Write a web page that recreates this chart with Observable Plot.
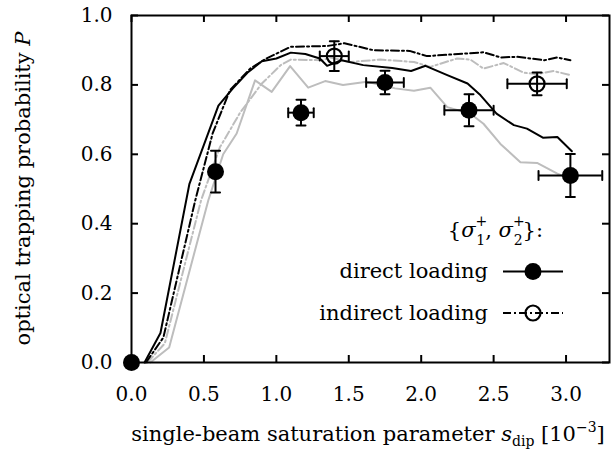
<!DOCTYPE html>
<html><head><meta charset="utf-8">
<script src="https://cdn.jsdelivr.net/npm/d3@7"></script>
<script src="https://cdn.jsdelivr.net/npm/@observablehq/plot@0.6"></script>
<style>body{margin:0;background:#fff} #chart{width:612px;height:455px}</style>
</head><body><div id="chart"></div>
<script>
// ---- data ----
const xTicks = [0, 0.5, 1.0, 1.5, 2.0, 2.5, 3.0];
const yTicks = [0, 0.2, 0.4, 0.6, 0.8, 1.0];

// simulation, direct loading (black solid)
const simDirX = [0.09, 0.2, 0.4, 0.6, 0.7, 0.8, 0.9, 1.0, 1.1, 1.2, 1.3, 1.35, 1.45, 1.6, 1.8, 1.93, 2.03, 2.18, 2.32, 2.41, 2.52, 2.64, 2.73, 2.84, 2.94, 3.04];
const simDirY = [0, 0.085, 0.515, 0.74, 0.79, 0.835, 0.868, 0.876, 0.893, 0.889, 0.876, 0.855, 0.871, 0.857, 0.849, 0.84, 0.855, 0.828, 0.804, 0.77, 0.717, 0.684, 0.674, 0.648, 0.65, 0.609];
// simulation, indirect loading (black dash-dot)
const simIndX = [0.1, 0.22, 0.44, 0.56, 0.68, 0.82, 0.93, 1.1, 1.35, 1.47, 1.67, 1.92, 2.04, 2.22, 2.43, 2.55, 2.66, 2.85, 2.94, 3.03];
const simIndY = [0, 0.072, 0.467, 0.66, 0.785, 0.847, 0.876, 0.91, 0.912, 0.92, 0.90, 0.898, 0.883, 0.888, 0.894, 0.879, 0.881, 0.871, 0.879, 0.871];
// second simulation, direct loading (gray solid)
const sim2DirX = [0.13, 0.26, 0.53, 0.633, 0.726, 0.853, 0.968, 1.095, 1.22, 1.337, 1.46, 1.625, 1.82, 1.95, 2.063, 2.18, 2.34, 2.43, 2.547, 2.685, 2.80, 2.94, 3.03];
const sim2DirY = [0, 0.043, 0.467, 0.60, 0.66, 0.813, 0.78, 0.854, 0.792, 0.811, 0.80, 0.809, 0.79, 0.783, 0.792, 0.736, 0.717, 0.688, 0.63, 0.577, 0.575, 0.544, 0.53];
// second simulation, indirect loading (gray dash-dot)
const sim2IndX = [0.11, 0.23, 0.48, 0.61, 0.75, 0.9, 1.03, 1.1, 1.32, 1.37, 1.51, 1.717, 1.95, 2.063, 2.247, 2.34, 2.43, 2.57, 2.71, 2.80, 2.915, 3.03];
const sim2IndY = [0, 0.055, 0.467, 0.62, 0.72, 0.804, 0.857, 0.873, 0.871, 0.879, 0.866, 0.873, 0.866, 0.852, 0.876, 0.873, 0.847, 0.863, 0.835, 0.831, 0.84, 0.828];

// measurements, direct loading (filled)
const dirX = [0, 0.58, 1.17, 1.75, 2.33, 3.03];
const dirY = [0, 0.55, 0.72, 0.807, 0.727, 0.539];
const dirXErr = [0, 0, 0.088, 0.13, 0.17, 0.22];
const dirYErr = [0, 0.06, 0.037, 0.034, 0.046, 0.062];
// measurements, indirect loading (open)
const indX = [1.40, 2.80];
const indY = [0.883, 0.803];
const indXErr = [0.1, 0.205];
const indYErr = [0.043, 0.033];

// ---- layout ----
const W = 612, H = 455, mL = 131, mR = 3, mT = 15, mB = 93;
const fw = W - mL - mR, fh = H - mT - mB;
const tickLen = 7, capLen = 9;
const FONT = "DejaVu Serif";
const FS = 21, TFS = 20, SFS = 14;
const GRAY = "#bdbdbd";
const DASHDOT = "8,3,2,3";

const toRows = (xs, ys) => xs.map((x, i) => ({x, y: ys[i]}));
const simDir = toRows(simDirX, simDirY);
const simInd = toRows(simIndX, simIndY);
const sim2Dir = toRows(sim2DirX, sim2DirY);
const sim2Ind = toRows(sim2IndX, sim2IndY);
const pts = (xs, ys, xe, ye) => xs.map((x, i) => ({x, y: ys[i], xe: xe[i], ye: ye[i]}));
const dir = pts(dirX, dirY, dirXErr, dirYErr);
const ind = pts(indX, indY, indXErr, indYErr);
const allPts = dir.concat(ind);
const withXE = allPts.filter(d => d.xe > 0);
const withYE = allPts.filter(d => d.ye > 0);
const xCaps = withXE.flatMap(d => [{x: d.x - d.xe, y: d.y}, {x: d.x + d.xe, y: d.y}]);
const yCaps = withYE.flatMap(d => [{x: d.x, y: d.y - d.ye}, {x: d.x, y: d.y + d.ye}]);
const capShape = {draw(ctx, l) { ctx.moveTo(0, 0); ctx.lineTo(0, -l); }};

const plot = Plot.plot({
  width: W, height: H,
  marginLeft: mL, marginRight: mR, marginTop: mT, marginBottom: mB,
  style: {fontFamily: FONT, fontSize: TFS + "px", color: "black", background: "white"},
  x: {domain: [0, 3.3]},
  y: {domain: [0, 1]},
  marks: [
    Plot.axisX({ticks: xTicks, tickFormat: d3.format(".1f"), tickSize: 0, tickPadding: 24, label: null, fontSize: TFS}),
    Plot.axisY({ticks: yTicks, tickFormat: d3.format(".1f"), tickSize: 0, tickPadding: 19, label: null, fontSize: TFS}),
    // inward ticks on all sides
    Plot.ruleX(xTicks, {x: d => d, insetTop: fh - tickLen, stroke: "black", strokeWidth: 2}),
    Plot.ruleX(xTicks, {x: d => d, insetBottom: fh - tickLen, stroke: "black", strokeWidth: 2}),
    Plot.ruleY(yTicks, {y: d => d, insetRight: fw - tickLen, stroke: "black", strokeWidth: 2}),
    Plot.ruleY(yTicks, {y: d => d, insetLeft: fw - tickLen, stroke: "black", strokeWidth: 2}),
    // simulation curves
    Plot.line(sim2Dir, {x: "x", y: "y", stroke: GRAY, strokeWidth: 2}),
    Plot.line(sim2Ind, {x: "x", y: "y", stroke: GRAY, strokeWidth: 2, strokeDasharray: DASHDOT}),
    Plot.line(simDir, {x: "x", y: "y", stroke: "black", strokeWidth: 2}),
    Plot.line(simInd, {x: "x", y: "y", stroke: "black", strokeWidth: 2, strokeDasharray: DASHDOT}),
    // error bars
    Plot.ruleY(withXE, {y: "y", x1: d => d.x - d.xe, x2: d => d.x + d.xe, stroke: "black", strokeWidth: 2}),
    Plot.ruleX(withYE, {x: "x", y1: d => d.y - d.ye, y2: d => d.y + d.ye, stroke: "black", strokeWidth: 2}),
    Plot.vector(xCaps, {x: "x", y: "y", length: capLen, rotate: 0, anchor: "middle", shape: capShape, stroke: "black", strokeWidth: 2}),
    Plot.vector(yCaps, {x: "x", y: "y", length: capLen, rotate: 90, anchor: "middle", shape: capShape, stroke: "black", strokeWidth: 2}),
    // markers
    Plot.dot(dir, {x: "x", y: "y", r: 8.5, fill: "black", stroke: "none", clip: false}),
    Plot.dot(ind, {x: "x", y: "y", r: 7.5, fill: "none", stroke: "black", strokeWidth: 2.2}),
    Plot.frame({stroke: "black", strokeWidth: 2})
  ]
});

const svg = d3.select(plot);
// axis labels
const yl = svg.append("text").attr("transform", `translate(30,${mT + fh / 2}) rotate(-90)`)
  .attr("text-anchor", "middle").attr("font-family", FONT).attr("font-size", FS).attr("fill", "black");
yl.append("tspan").text("optical trapping probability ");
yl.append("tspan").attr("font-style", "italic").text("P");

const xl = svg.append("text").attr("x", mL + fw / 2 - 2).attr("y", 441)
  .attr("text-anchor", "middle").attr("font-family", FONT).attr("font-size", FS).attr("fill", "black");
xl.append("tspan").text("single-beam saturation parameter ");
xl.append("tspan").attr("font-style", "italic").text("s");
xl.append("tspan").attr("font-size", SFS).attr("dy", 5).text("dip");
xl.append("tspan").attr("dy", -5).text(" [10");
xl.append("tspan").attr("font-size", SFS).attr("dy", -9).text("\u22123");
xl.append("tspan").attr("dy", 9).text("]");

// legend
const lg = svg.append("g").attr("font-family", FONT).attr("font-size", FS).attr("fill", "black");
const t0 = lg.append("text").attr("x", 543).attr("y", 237).attr("text-anchor", "end");
t0.append("tspan").text("{");
t0.append("tspan").attr("font-style", "italic").text("\u03c3");
t0.append("tspan").attr("font-size", SFS).attr("dy", -11).text("+");
t0.append("tspan").attr("font-size", SFS).attr("dx", -11).attr("dy", 19).text("1");
t0.append("tspan").attr("dy", -8).text(", ");
t0.append("tspan").attr("font-style", "italic").text("\u03c3");
t0.append("tspan").attr("font-size", SFS).attr("dy", -11).text("+");
t0.append("tspan").attr("font-size", SFS).attr("dx", -11).attr("dy", 19).text("2");
t0.append("tspan").attr("dy", -8).text("}:");

lg.append("text").attr("x", 488).attr("y", 278).attr("text-anchor", "end").text("direct loading");
lg.append("line").attr("x1", 503).attr("x2", 563).attr("y1", 271.5).attr("y2", 271.5).attr("stroke", "black").attr("stroke-width", 2);
lg.append("circle").attr("cx", 533).attr("cy", 271.5).attr("r", 8.5).attr("fill", "black");

lg.append("text").attr("x", 488).attr("y", 320).attr("text-anchor", "end").text("indirect loading");
lg.append("line").attr("x1", 503).attr("x2", 563).attr("y1", 313).attr("y2", 313).attr("stroke", "black").attr("stroke-width", 2).attr("stroke-dasharray", DASHDOT);
lg.append("circle").attr("cx", 533).attr("cy", 313).attr("r", 7.5).attr("fill", "none").attr("stroke", "black").attr("stroke-width", 2.2);

document.getElementById("chart").appendChild(plot);
</script>
</body></html>
